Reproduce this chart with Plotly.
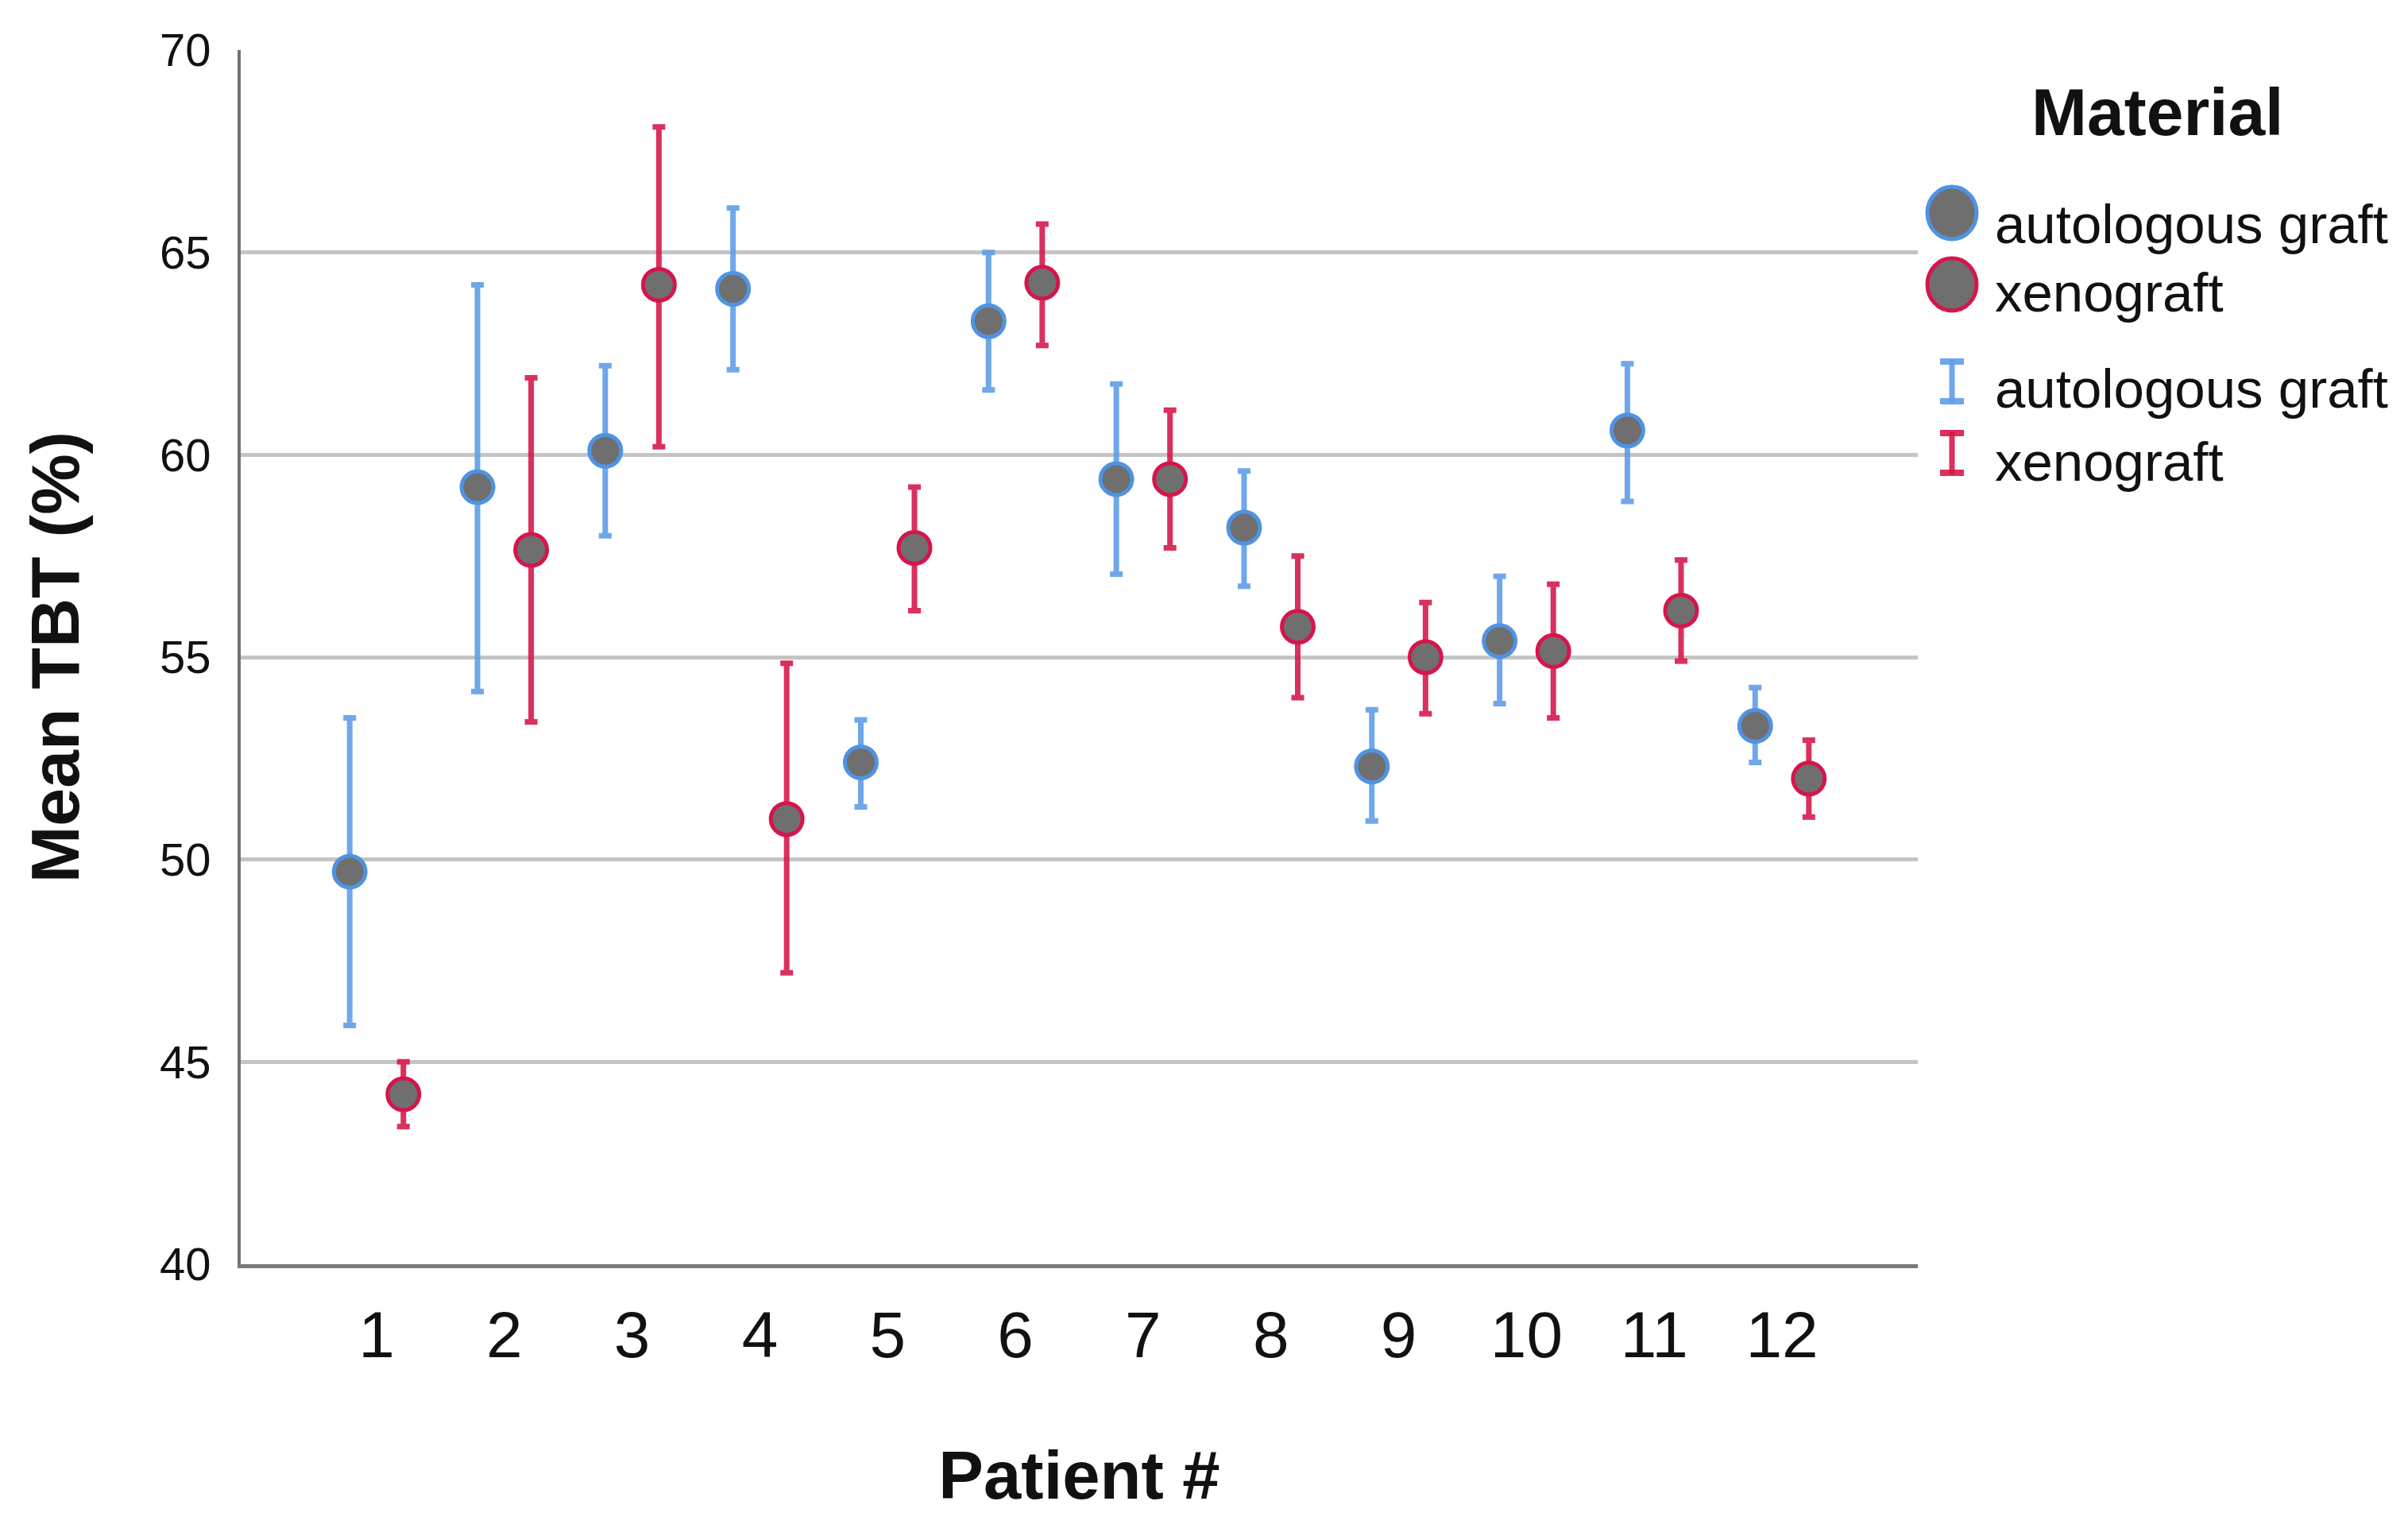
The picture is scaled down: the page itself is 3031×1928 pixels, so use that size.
import plotly.graph_objects as go

# ---------------- data ----------------
patients = ["1", "2", "3", "4", "5", "6", "7", "8", "9", "10", "11", "12"]

auto_mean = [49.7, 59.2, 60.1, 64.1, 52.4, 63.3, 59.4, 58.2, 52.3, 55.4, 60.6, 53.3]
auto_upper = [53.5, 64.2, 62.2, 66.1, 53.45, 65.0, 61.75, 59.6, 53.7, 57.0, 62.25, 54.25]
auto_lower = [45.9, 54.15, 58.0, 62.1, 51.3, 61.6, 57.05, 56.75, 50.95, 53.85, 58.85, 52.4]

xeno_mean = [44.2, 57.65, 64.2, 51.0, 57.7, 64.25, 59.4, 55.75, 55.0, 55.15, 56.15, 52.0]
xeno_upper = [45.0, 61.9, 68.1, 54.85, 59.2, 65.7, 61.1, 57.5, 56.35, 56.8, 57.4, 52.95]
xeno_lower = [43.4, 53.4, 60.2, 47.2, 56.15, 62.7, 57.7, 54.0, 53.6, 53.5, 54.9, 51.05]

series_names = ["autologous graft", "xenograft"]
legend_title = "Material"
x_title = "Patient #"
y_title = "Mean TBT (%)"

# ---------------- styling ----------------
OFF = 8  # page body margin
W, H = 3031 - 2 * OFF, 1928 - 2 * OFF
# plot-area edges in window pixels, converted to figure pixels
L, R, T, B = 303 - OFF, 2414 - OFF, 63 - OFF, 1591 - OFF
FONT = "Liberation Sans, Arial, sans-serif"
GRAY_FILL = "#6f6f6f"
BLUE_LINE = "#4f93e3"
BLUE_ERR = "rgba(95,157,232,0.9)"
RED_LINE = "#d5154b"
RED_ERR = "rgba(214,25,75,0.9)"

fig = go.Figure()


def add_series(name, mean, upper, lower, line_col, err_col):
    fig.add_trace(go.Scatter(
        x=patients, y=mean, mode="markers", name=name, offsetgroup=name,
        showlegend=False,
        marker=dict(size=40, color=GRAY_FILL, line=dict(color=line_col, width=5)),
        error_y=dict(type="data", symmetric=False,
                     array=[u - m for u, m in zip(upper, mean)],
                     arrayminus=[m - lo for m, lo in zip(mean, lower)],
                     color=err_col, thickness=7, width=8),
    ))


add_series(series_names[0], auto_mean, auto_upper, auto_lower, BLUE_LINE, BLUE_ERR)
add_series(series_names[1], xeno_mean, xeno_upper, xeno_lower, RED_LINE, RED_ERR)


# ---------------- manual legend (layout only) ----------------
def px(X):
    return (X - OFF - L) / (R - L)


def py(Y):
    return (B - (Y - OFF)) / (B - T)


annotations = [
    dict(text=legend_title, x=px(2715), y=py(141), xref="paper", yref="paper",
         xanchor="center", yanchor="middle", showarrow=False,
         font=dict(family=FONT, size=84, color="#111111", weight="bold")),
]
legend_rows = [
    (series_names[0], 282, "circle", BLUE_LINE, 268),
    (series_names[1], 368, "circle", RED_LINE, 358),
    (series_names[0], 490, "bar", BLUE_ERR, 480),
    (series_names[1], 582, "bar", RED_ERR, 570),
]
shapes = []
for text, ty, kind, col, cy in legend_rows:
    annotations.append(dict(text=text, x=px(2509), y=py(ty), xref="paper", yref="paper",
                            xanchor="left", yanchor="middle", showarrow=False,
                            font=dict(family=FONT, size=69, color="#111111")))
    if kind == "circle":
        shapes.append(dict(type="circle", xref="paper", yref="paper",
                           xsizemode="pixel", ysizemode="pixel",
                           xanchor=px(2457), yanchor=py(cy),
                           x0=-31, x1=31, y0=-33, y1=33,
                           fillcolor=GRAY_FILL, line=dict(color=col, width=5)))
    else:
        shapes.append(dict(type="line", xref="paper", yref="paper",
                           x0=px(2457), x1=px(2457), y0=py(cy - 27), y1=py(cy + 27),
                           line=dict(color=col, width=7)))
        for yy in (cy - 25, cy + 25):
            shapes.append(dict(type="line", xref="paper", yref="paper",
                               xsizemode="pixel", xanchor=px(2457),
                               x0=-15, x1=15, y0=py(yy), y1=py(yy),
                               line=dict(color=col, width=8)))

fig.update_layout(
    width=W, height=H,
    margin=dict(l=L, r=W - R, t=T, b=H - B, autoexpand=False),
    paper_bgcolor="white", plot_bgcolor="white",
    scattermode="group", scattergap=0.16,
    showlegend=False,
    font=dict(family=FONT, color="#111111"),
    annotations=annotations,
    shapes=shapes,
    xaxis=dict(
        type="category", range=[-1.063, 12.063],
        showgrid=False, zeroline=False,
        showline=True, linecolor="#7a7a7a", linewidth=5,
        ticks="", ticklabelstandoff=14,
        tickfont=dict(family=FONT, size=82, color="#111111"),
        title=dict(text=x_title, standoff=104,
                   font=dict(family=FONT, size=85, color="#111111", weight="bold")),
    ),
    yaxis=dict(
        range=[40, 70], tick0=40, dtick=5,
        showgrid=True, gridcolor="#c4c4c4", gridwidth=5,
        zeroline=False,
        showline=True, linecolor="#727272", linewidth=4,
        ticks="", ticklabelstandoff=22,
        tickfont=dict(family=FONT, size=58, color="#111111"),
        title=dict(text=y_title, standoff=74,
                   font=dict(family=FONT, size=86, color="#111111", weight="bold")),
    ),
)

fig.write_html("out.html")
